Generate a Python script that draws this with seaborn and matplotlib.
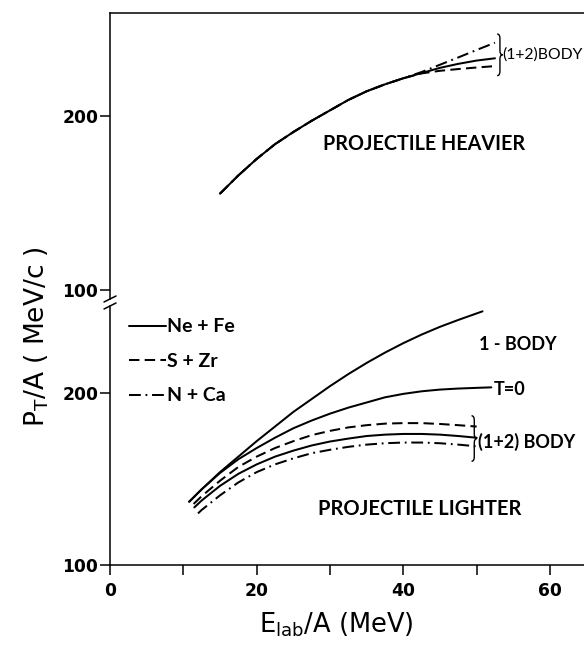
import matplotlib
matplotlib.use("Agg")
import matplotlib.pyplot as plt
import seaborn as sns
from matplotlib.path import Path
from matplotlib.patches import PathPatch

# ---------------- data ----------------
# Top panel: projectile heavier
top_x = [15, 17.5, 20, 22.5, 25, 27.5, 30, 32.5, 35, 37.5, 40, 42.5, 45, 47.5, 50, 52.5]
top_nefe = [155.5, 166, 175.5, 184, 191, 197.5, 203.5, 209.5, 214.5, 218.5, 222, 225, 228, 230.3, 232.2, 233.5]
top_szr = [155.5, 166, 175.5, 184, 191, 197.5, 203.5, 209.5, 214.5, 218.5, 222, 224.8, 226.3, 227.3, 228.2, 229]
top_nca = [155.5, 166, 175.5, 184, 191, 197.5, 203.5, 209.5, 214.5, 218.5, 222, 225.6, 229.8, 234, 238.3, 242.5]

# Bottom panel: projectile lighter
one_body_x = [10.8, 12.5, 15, 17.5, 20, 22.5, 25, 27.5, 30, 32.5, 35, 37.5, 40, 42.5, 45, 47.5, 50.8]
one_body = [136.8, 144, 154, 163, 172, 180.5, 189, 196.5, 204, 211, 217.5, 223.5, 229, 234, 238.5, 242.5, 247.5]

t_zero_x = [10.8, 12.5, 15, 17.5, 20, 22.5, 25, 27.5, 30, 32.5, 35, 37.5, 40, 42.5, 45, 47.5, 50, 52]
t_zero = [136.8, 144, 153.5, 161.5, 168, 174, 179.5, 184, 188, 191.5, 194.5, 197.5, 199.5, 201, 202, 202.6, 203, 203.3]

szr_x = [11.4, 12.5, 15, 17.5, 20, 22.5, 25, 27.5, 30, 32.5, 35, 37.5, 40, 42.5, 45, 47.5, 50]
szr = [135.5, 140, 149, 157, 163, 168, 172, 175.5, 178, 180, 181.3, 182.2, 182.5, 182.5, 182, 181.3, 180.5]

nefe_x = [11.5, 12.5, 15, 17.5, 20, 22.5, 25, 27.5, 30, 32.5, 35, 37.5, 40, 42.5, 45, 47.5, 50]
nefe = [133.5, 137.5, 146, 153, 158.5, 163, 166.5, 169.5, 171.8, 173.5, 175, 175.8, 176.2, 176.2, 175.8, 175, 174]

nca_x = [12, 12.5, 15, 17.5, 20, 22.5, 25, 27.5, 30, 32.5, 35, 37.5, 40, 42.5, 45, 47.5, 50]
nca = [130, 132, 140.5, 148, 154, 158.5, 162, 165, 167, 168.7, 170, 170.8, 171.2, 171.2, 170.8, 170, 169]

series_labels = ["Ne + Fe", "S + Zr", "N + Ca"]
x_major = [0, 20, 40, 60]
x_minor = [10, 30, 50]
y_ticks = [100, 200]

# ---------------- styling ----------------
sns.set_theme(style="ticks")
plt.rcParams["font.family"] = ["Lato", "DejaVu Sans"]
plt.rcParams["mathtext.default"] = "regular"
plt.rcParams["lines.scale_dashes"] = False

LW = 1.45
DASH = (0, (7.5, 3.8))
DASHDOT = (0, (8.5, 3.4, 1.3, 3.4))
TXT = dict(color="black", fontweight="bold")
TICKFONT = dict(family="DejaVu Sans", weight="bold", size=12.3)

W, H = 584, 646
fig = plt.figure(figsize=(W / 100, H / 100), dpi=100)

def frac(px_left, px_top, px_right, px_bottom):
    return [px_left / W, 1 - px_bottom / H, (px_right - px_left) / W, (px_bottom - px_top) / H]

ax_top = fig.add_axes(frac(110, 13, 584, 299))
ax_bot = fig.add_axes(frac(110, 306, 584, 565))

xmax = (584 - 110) / 7.333
for ax in (ax_top, ax_bot):
    ax.set_xlim(0, xmax)
    ax.set_facecolor("white")
    for s in ax.spines.values():
        s.set_linewidth(1.1)
        s.set_color("black")
    ax.spines["right"].set_visible(False)
    ax.set_yticks(y_ticks)
    ax.tick_params(axis="y", direction="out", length=7.5, width=1.1, pad=1, colors="black")
    for lab in ax.get_yticklabels():
        lab.set_fontproperties(TICKFONT)

ax_top.set_ylim(94.8, 259.6)
ax_bot.set_ylim(100, 250.6)

ax_top.spines["bottom"].set_visible(False)
ax_top.tick_params(axis="x", bottom=False, labelbottom=False)
ax_bot.spines["top"].set_visible(False)

ax_bot.set_xticks(x_major)
ax_bot.set_xticks(x_minor, minor=True)
ax_bot.tick_params(axis="x", which="both", direction="out", length=7, width=1.1,
                   pad=5, colors="black")
for lab in ax_bot.get_xticklabels():
    lab.set_fontproperties(TICKFONT)

# ---------------- curves ----------------
kw = dict(color="black", lw=LW, sort=False, estimator=None)
sns.lineplot(x=top_x, y=top_nefe, ax=ax_top, linestyle="-", **kw)
sns.lineplot(x=top_x, y=top_szr, ax=ax_top, linestyle=DASH, **kw)
sns.lineplot(x=top_x, y=top_nca, ax=ax_top, linestyle=DASHDOT, **kw)

sns.lineplot(x=one_body_x, y=one_body, ax=ax_bot, linestyle="-", **kw)
sns.lineplot(x=t_zero_x, y=t_zero, ax=ax_bot, linestyle="-", **kw)
sns.lineplot(x=nefe_x, y=nefe, ax=ax_bot, linestyle="-", label=series_labels[0], **kw)
sns.lineplot(x=szr_x, y=szr, ax=ax_bot, linestyle=DASH, label=series_labels[1], **kw)
sns.lineplot(x=nca_x, y=nca, ax=ax_bot, linestyle=DASHDOT, label=series_labels[2], **kw)

handles, labels = ax_bot.get_legend_handles_labels()
leg = ax_bot.legend(handles, labels, loc="upper left", bbox_to_anchor=(0.04, 0.952),
                    frameon=False, handlelength=1.9, handletextpad=0.08,
                    labelspacing=0.9, borderpad=0, borderaxespad=0,
                    prop=dict(family="Lato", weight="bold", size=14))
for t in leg.get_texts():
    t.set_color("black")

# ---------------- braces ----------------
def brace(ax, x0, y_top, y_bot, width):
    ym = (y_top + y_bot) / 2
    w = width
    verts = [(x0, y_top), (x0 + w * 0.55, y_top), (x0 + w * 0.5, y_top - (y_top - ym) * 0.25),
             (x0 + w * 0.5, ym + (y_top - ym) * 0.2),
             (x0 + w * 0.5, ym), (x0 + w, ym),
             (x0 + w * 0.5, ym), (x0 + w * 0.5, ym - (ym - y_bot) * 0.2),
             (x0 + w * 0.5, y_bot + (ym - y_bot) * 0.25),
             (x0 + w * 0.55, y_bot), (x0, y_bot)]
    codes = [Path.MOVETO, Path.CURVE3, Path.CURVE3, Path.LINETO,
             Path.CURVE3, Path.CURVE3, Path.CURVE3, Path.CURVE3,
             Path.LINETO, Path.CURVE3, Path.CURVE3]
    ax.add_patch(PathPatch(Path(verts, codes), fill=False, lw=1.0, color="black",
                           clip_on=False))

brace(ax_top, 52.8, 247.5, 223.5, 0.75)
brace(ax_bot, 49.3, 186.8, 160.3, 0.75)

# ---------------- annotations ----------------
ax_top.text(53.55, 235.4, "(1+2)BODY", fontsize=11.3, ha="left", va="center",
            color="black", clip_on=False)
ax_top.text(29.0, 184.0, "PROJECTILE HEAVIER", fontsize=14.2, ha="left", va="center", **TXT)

ax_bot.text(50.3, 228.0, "1 - BODY", fontsize=13, ha="left", va="center", **TXT)
ax_bot.text(52.3, 202.0, "T=0", fontsize=13, ha="left", va="center", **TXT)
ax_bot.text(50.2, 171.7, "(1+2) BODY", fontsize=13, ha="left", va="center", **TXT)
ax_bot.text(28.4, 132.6, "PROJECTILE LIGHTER", fontsize=14.5, ha="left", va="center", **TXT)

# axis labels
fig.text(37 / W, 1 - 337 / H, "P$_{T}$/A ( MeV/c )", rotation=90, ha="center",
         va="center", fontsize=19, color="black", family="DejaVu Sans")
fig.text(336 / W, 1 - 625 / H, "E$_{lab}$/A (MeV)", ha="center", va="center",
         fontsize=18.5, color="black", family="DejaVu Sans")

# ---------------- axis break marks ----------------
def slash(ax, yfrac, h_px):
    dx = 6 / 474
    dy = 3 / h_px
    ax.plot([-dx, dx], [yfrac - dy, yfrac + dy], transform=ax.transAxes,
            color="black", lw=1.1, clip_on=False)

slash(ax_top, 0.0, 286)
slash(ax_bot, 1.0, 259)

fig.savefig("out.png", dpi=100, facecolor="white")
